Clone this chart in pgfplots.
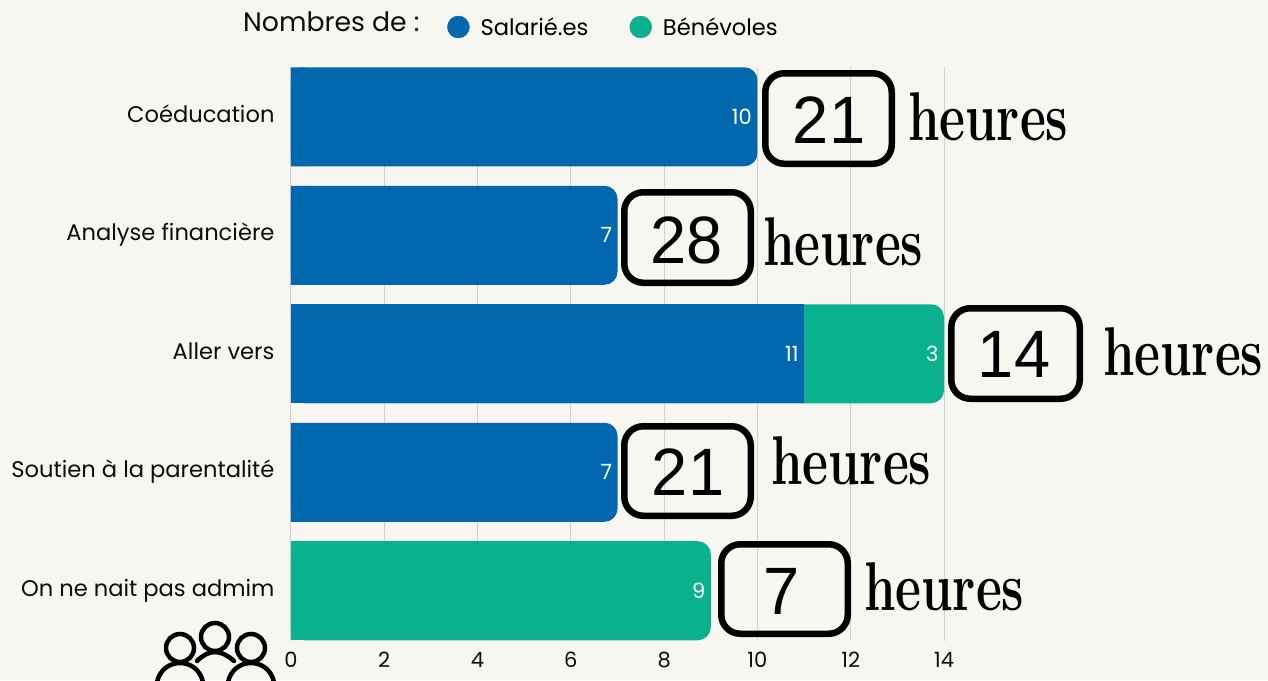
\documentclass[border=0pt]{standalone}
\usepackage{pgfplots}
\pgfplotsset{compat=1.18}
\usepackage{fontspec}
\setmainfont{Poppins}
\newfontfamily\numfont{Liberation Sans}
\newfontfamily\heurfont{Latin Modern Roman}
\definecolor{bg}{HTML}{F8F6F1}
\definecolor{sal}{HTML}{0268AD}
\definecolor{ben}{HTML}{09B18D}
\definecolor{gridc}{HTML}{CFCFCC}
\newcommand{\fs}[1]{\fontsize{#1}{#1}\selectfont}
\newcommand{\boxnum}[5]{% x0,y0,x1,y1,digits
  \draw[line width=6.5pt,rounded corners=19pt,black] (#1+2.25,-#2-2.25) rectangle (#3-1.25,-#4+1.25);}
\newcommand{\num}[3]{\node[anchor=base,inner sep=0pt,xscale=0.97,font=\numfont\fs{67}] at (#1,-#2) {#3};}
\newcommand{\heur}[2]{\node[anchor=base west,inner sep=0pt,xscale=0.73,font=\heurfont\bfseries\fs{69}] at (#1,-#2) {heures};}
\begin{document}
\begin{tikzpicture}[x=1pt,y=1pt]
\fill[bg] (0,0) rectangle (1268,-680);
\begin{axis}[
  at={(291pt,-640.5pt)},anchor=south west,
  scale only axis,width=653pt,height=573.5pt,
  xmin=0,xmax=14,ymin=-0.42,ymax=4.42,y dir=reverse,
  axis line style={draw=none},
  axis x line*=bottom,axis y line*=left,
  xtick={0,2,...,14},ytick={0,1,2,3,4},
  yticklabels={Coéducation,Analyse financière,Aller vers,Soutien à la parentalité,On ne nait pas admim},
  major tick length=0pt,tick style={draw=none},
  xmajorgrids,grid style={gridc,line width=1pt},
  every tick label/.append style={font=\fs{22.6},text=black!95},
  /pgf/number format/assume math mode=true,
  yticklabel style={xshift=-13pt,text height=16pt,text depth=5pt},
  xticklabel style={yshift=-8pt,font=\fs{21}},
  clip=false,
  bar shift=0pt,
  legend style={at={(156pt,40pt)},anchor=west,draw=none,fill=none,font=\fs{22.6},inner sep=0pt,
    legend columns=2,
    /tikz/every odd column/.append style={column sep=9pt},
    /tikz/every even column/.append style={column sep=39pt}},
  legend cell align=left,
  legend image code/.code={\fill[#1] (0pt,0pt) circle (11pt);},
]
\addlegendimage{sal}\addlegendentry{Salarié.es}
\addlegendimage{ben}\addlegendentry{Bénévoles}
% Bénévoles
\addplot[xbar,bar width=99pt,fill=ben,draw=none,rounded corners=13pt,forget plot,
  point meta=explicit symbolic,nodes near coords,
  every node near coord/.append style={anchor=east,text=white,font=\fs{21},xshift=-2pt}]
  coordinates {(14,2)[3] (9,4)[9]};
\addplot[xbar,bar width=99pt,fill=ben,draw=none,forget plot] coordinates {(0.3,4)};
% Salariés
\addplot[xbar,bar width=99pt,fill=sal,draw=none,rounded corners=13pt,forget plot,
  point meta=explicit symbolic,nodes near coords,
  every node near coord/.append style={anchor=east,text=white,font=\fs{21},xshift=-2pt}]
  coordinates {(10,0)[10] (7,1)[7] (7,3)[7]};
\addplot[xbar,bar width=99pt,fill=sal,draw=none,forget plot,
  point meta=explicit symbolic,nodes near coords,
  every node near coord/.append style={anchor=east,text=white,font=\fs{21},xshift=-2pt}]
  coordinates {(11,2)[11]};
\addplot[xbar,bar width=99pt,fill=sal,draw=none,forget plot] coordinates {(0.3,0) (0.3,1) (0.3,3)};
\end{axis}
\node[anchor=base west,inner sep=0pt,font=\fs{26.7},text=black!95] at (243,-31) {Nombres de :};
% encadrés
\boxnum{763}{71}{893}{165}{}
\boxnum{622}{190}{752}{284}{}
\boxnum{949}{306}{1081}{400}{}
\boxnum{622}{424}{752}{517}{}
\boxnum{719}{542}{849}{635}{}
\num{829}{143}{21}\num{687}{263}{28}\num{1014}{377}{14}\num{688}{495}{21}\num{782}{614}{7}
\heur{908}{140}\heur{763}{265}\heur{1103}{375}\heur{771}{484}\heur{864}{610}
% pictogramme
\begin{scope}[line width=4.5pt,black]
\clip (140,-620) rectangle (290,-680);
\draw (180,-648) circle (14);
\draw (215,-637) circle (14);
\draw (251,-648) circle (14);
\draw (157,-682) .. controls (160,-669) and (170,-663) .. (180,-663) .. controls (190,-663) and (200,-669) .. (203,-682);
\draw (228,-682) .. controls (231,-669) and (241,-663) .. (251,-663) .. controls (261,-663) and (271,-669) .. (274,-682);
\draw[line cap=round] (197,-661) .. controls (203,-655) and (209,-652) .. (215,-652) .. controls (221,-652) and (229,-656) .. (234,-661);
\end{scope}
\end{tikzpicture}
\end{document}
